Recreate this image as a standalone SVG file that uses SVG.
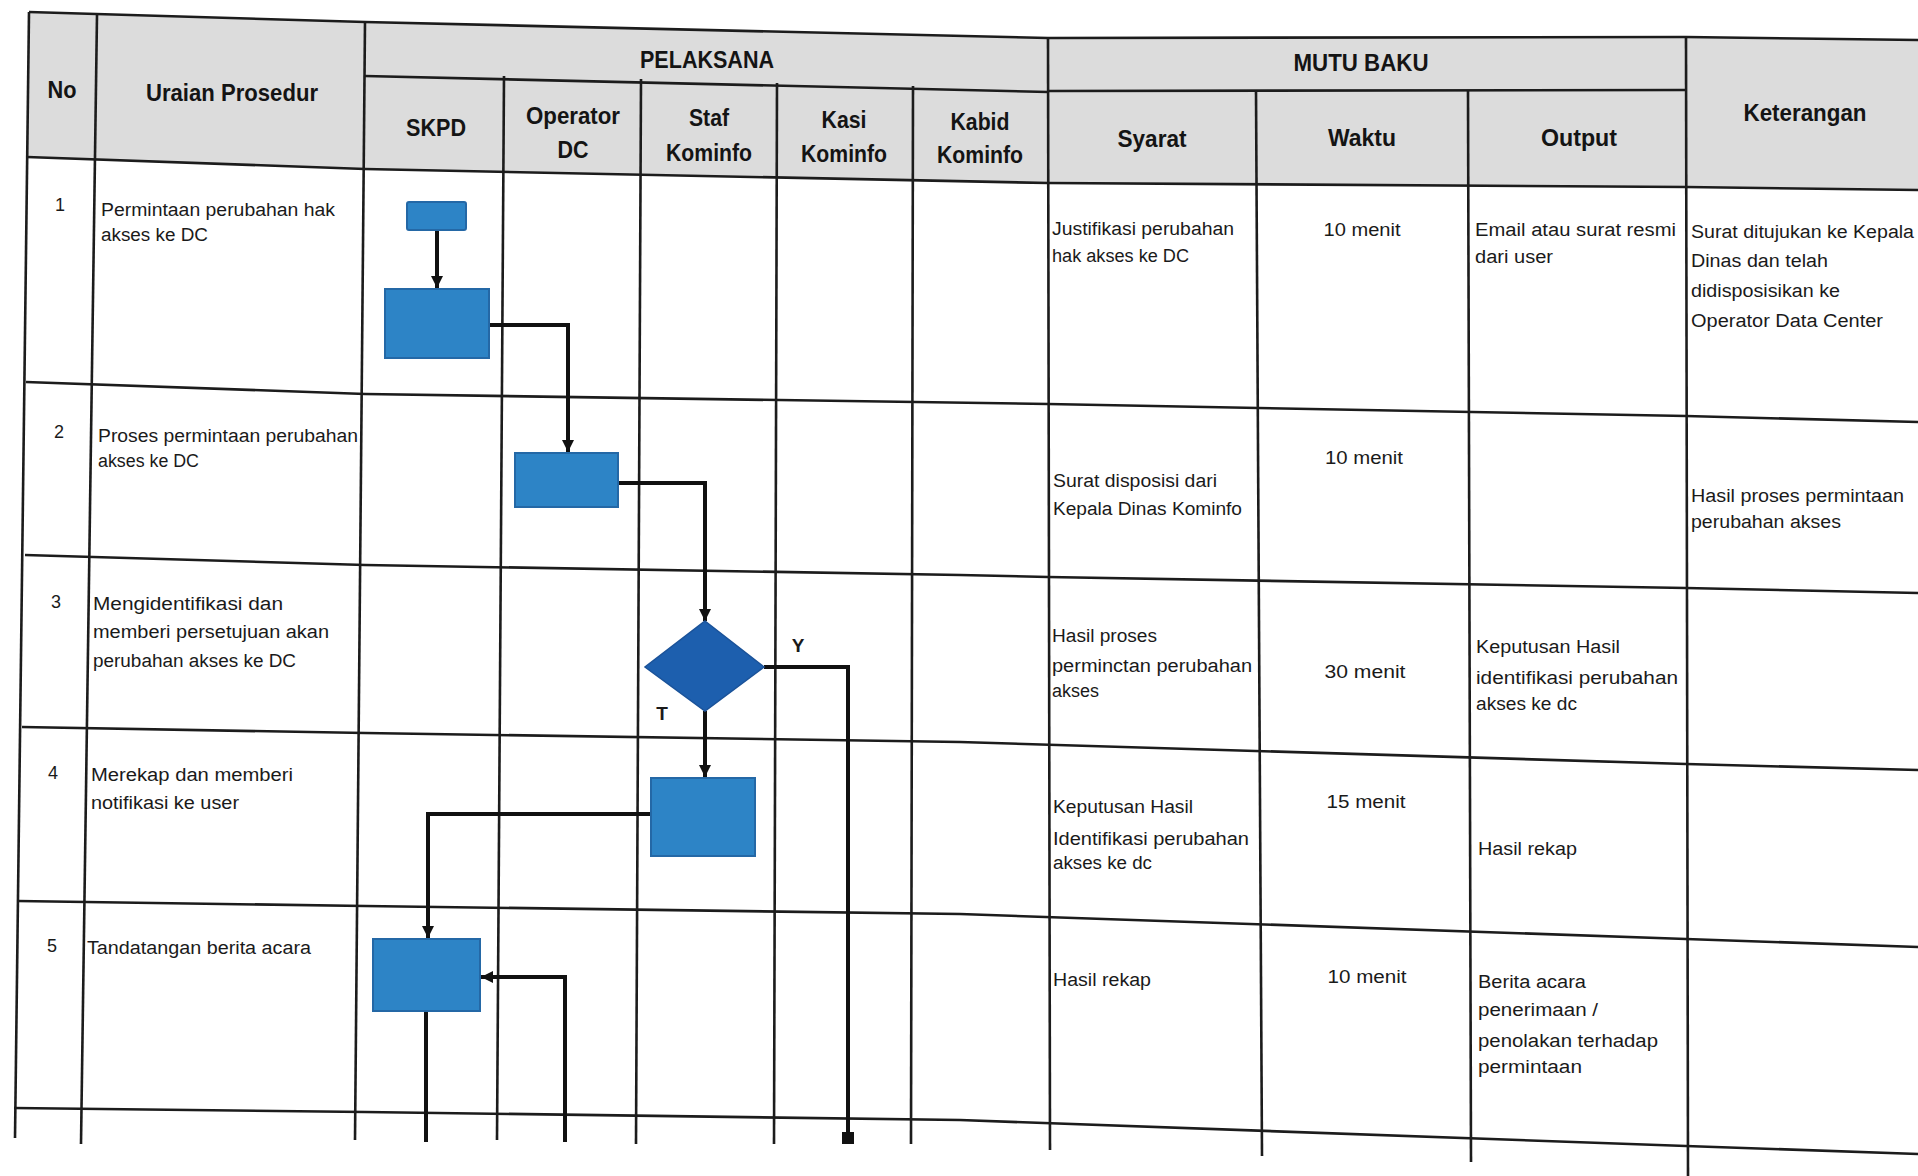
<svg xmlns="http://www.w3.org/2000/svg" width="1918" height="1176" viewBox="0 0 1918 1176">
<style>
.grid{fill:none;stroke:#1c1c1c;stroke-width:2.6;stroke-linejoin:round}
.hd{font-family:"Liberation Sans",Arial,sans-serif;font-weight:bold;font-size:24px;fill:#141414;text-anchor:middle}
.tx{font-family:"Liberation Sans",Arial,sans-serif;font-size:18px;fill:#1a1a1a}
.ct{text-anchor:middle}
.box{fill:#2d84c6;stroke:#2468a6;stroke-width:2}
.dia{fill:#1d5fae;stroke:#1a5299;stroke-width:1.5}
.con{fill:none;stroke:#111;stroke-width:4;stroke-linejoin:miter}
.lbl{font-family:"Liberation Sans",Arial,sans-serif;font-weight:bold;font-size:19px;fill:#1a1a1a;text-anchor:middle}
</style>
<defs>
<marker id="ah" markerUnits="userSpaceOnUse" markerWidth="14" markerHeight="14" refX="12" refY="7" orient="auto">
<path d="M0,1 L12,7 L0,13 z" fill="#111"/>
</marker>
<marker id="dot" markerUnits="userSpaceOnUse" markerWidth="14" markerHeight="14" refX="7" refY="7" orient="auto">
<rect x="1" y="1" width="12" height="12" fill="#111"/>
</marker>
</defs>
<rect width="1918" height="1176" fill="#ffffff"/>
<g id="table">
<polygon points="29,12 365,22 1048,38 1686,37 1918,40 1918,190 1686,187 1048,183 365,169 27,157" fill="#dcdcdc"/>
<polyline class="grid" points="29,12 365,22 1048,38 1686,37 1918,40"/>
<polyline class="grid" points="365,76 1048,92"/>
<polyline class="grid" points="1048,91 1686,90"/>
<polyline class="grid" points="27,157 365,169 1048,183 1686,187 1918,190"/>
<polyline class="grid" points="26,382 365,394 1048,404 1686,416 1918,422"/>
<polyline class="grid" points="25,555 365,565 960,575 1048,577 1686,588 1918,593"/>
<polyline class="grid" points="22,727 365,733 960,742 1686,764 1918,770"/>
<polyline class="grid" points="18,901 365,906 960,914 1686,939 1918,947"/>
<polyline class="grid" points="14,1108 365,1112 960,1120 1686,1146 1918,1154"/>
<line class="grid" x1="29" y1="12" x2="15" y2="1138"/>
<line class="grid" x1="97" y1="15" x2="81" y2="1144"/>
<line class="grid" x1="365" y1="22" x2="355" y2="1140"/>
<line class="grid" x1="504" y1="76" x2="497" y2="1140"/>
<line class="grid" x1="641" y1="79" x2="636" y2="1144"/>
<line class="grid" x1="777" y1="83" x2="774" y2="1144"/>
<line class="grid" x1="913" y1="86" x2="911" y2="1144"/>
<line class="grid" x1="1048" y1="38" x2="1050" y2="1150"/>
<line class="grid" x1="1256" y1="91" x2="1262" y2="1156"/>
<line class="grid" x1="1468" y1="90" x2="1471" y2="1162"/>
<line class="grid" x1="1686" y1="37" x2="1688" y2="1176"/>
</g>
<g id="header">
<text class="hd" x="62" y="98" textLength="29" lengthAdjust="spacingAndGlyphs">No</text>
<text class="hd" x="232" y="101" textLength="172" lengthAdjust="spacingAndGlyphs">Uraian Prosedur</text>
<text class="hd" x="707" y="68" textLength="134" lengthAdjust="spacingAndGlyphs">PELAKSANA</text>
<text class="hd" x="436" y="136" textLength="60" lengthAdjust="spacingAndGlyphs">SKPD</text>
<text class="hd" x="573" y="124" textLength="94" lengthAdjust="spacingAndGlyphs">Operator</text>
<text class="hd" x="573" y="158" textLength="31" lengthAdjust="spacingAndGlyphs">DC</text>
<text class="hd" x="709" y="126" textLength="40" lengthAdjust="spacingAndGlyphs">Staf</text>
<text class="hd" x="709" y="161" textLength="86" lengthAdjust="spacingAndGlyphs">Kominfo</text>
<text class="hd" x="844" y="128" textLength="45" lengthAdjust="spacingAndGlyphs">Kasi</text>
<text class="hd" x="844" y="162" textLength="86" lengthAdjust="spacingAndGlyphs">Kominfo</text>
<text class="hd" x="980" y="130" textLength="59" lengthAdjust="spacingAndGlyphs">Kabid</text>
<text class="hd" x="980" y="163" textLength="86" lengthAdjust="spacingAndGlyphs">Kominfo</text>
<text class="hd" x="1361" y="71" textLength="135" lengthAdjust="spacingAndGlyphs">MUTU BAKU</text>
<text class="hd" x="1152" y="147" textLength="69" lengthAdjust="spacingAndGlyphs">Syarat</text>
<text class="hd" x="1362" y="146" textLength="68" lengthAdjust="spacingAndGlyphs">Waktu</text>
<text class="hd" x="1579" y="146" textLength="76" lengthAdjust="spacingAndGlyphs">Output</text>
<text class="hd" x="1805" y="121" textLength="123" lengthAdjust="spacingAndGlyphs">Keterangan</text>
</g>
<g id="cells">
<text class="tx ct" x="60" y="211">1</text>
<text class="tx" x="101" y="216" textLength="234" lengthAdjust="spacingAndGlyphs">Permintaan perubahan hak</text>
<text class="tx" x="101" y="241" textLength="107" lengthAdjust="spacingAndGlyphs">akses ke  DC</text>
<text class="tx" x="1052" y="235" textLength="182" lengthAdjust="spacingAndGlyphs">Justifikasi perubahan</text>
<text class="tx" x="1052" y="262" textLength="137" lengthAdjust="spacingAndGlyphs">hak akses ke DC</text>
<text class="tx ct" x="1362" y="236" textLength="77" lengthAdjust="spacingAndGlyphs">10 menit</text>
<text class="tx" x="1475" y="236" textLength="201" lengthAdjust="spacingAndGlyphs">Email atau surat resmi</text>
<text class="tx" x="1475" y="263" textLength="78" lengthAdjust="spacingAndGlyphs">dari user</text>
<text class="tx" x="1691" y="238" textLength="223" lengthAdjust="spacingAndGlyphs">Surat ditujukan ke Kepala</text>
<text class="tx" x="1691" y="267" textLength="137" lengthAdjust="spacingAndGlyphs">Dinas dan telah</text>
<text class="tx" x="1691" y="297" textLength="149" lengthAdjust="spacingAndGlyphs">didisposisikan ke</text>
<text class="tx" x="1691" y="327" textLength="192" lengthAdjust="spacingAndGlyphs">Operator Data Center</text>

<text class="tx ct" x="59" y="438">2</text>
<text class="tx" x="98" y="442" textLength="260" lengthAdjust="spacingAndGlyphs">Proses permintaan perubahan</text>
<text class="tx" x="98" y="467" textLength="101" lengthAdjust="spacingAndGlyphs">akses ke DC</text>
<text class="tx" x="1053" y="487" textLength="164" lengthAdjust="spacingAndGlyphs">Surat disposisi dari</text>
<text class="tx" x="1053" y="515" textLength="189" lengthAdjust="spacingAndGlyphs">Kepala Dinas Kominfo</text>
<text class="tx ct" x="1364" y="464" textLength="78" lengthAdjust="spacingAndGlyphs">10 menit</text>
<text class="tx" x="1691" y="502" textLength="213" lengthAdjust="spacingAndGlyphs">Hasil proses permintaan</text>
<text class="tx" x="1691" y="528" textLength="150" lengthAdjust="spacingAndGlyphs">perubahan akses</text>

<text class="tx ct" x="56" y="608">3</text>
<text class="tx" x="93" y="610" textLength="190" lengthAdjust="spacingAndGlyphs">Mengidentifikasi  dan</text>
<text class="tx" x="93" y="638" textLength="236" lengthAdjust="spacingAndGlyphs">memberi persetujuan akan</text>
<text class="tx" x="93" y="667" textLength="203" lengthAdjust="spacingAndGlyphs">perubahan akses ke DC</text>
<text class="tx" x="1052" y="642" textLength="105" lengthAdjust="spacingAndGlyphs">Hasil proses</text>
<text class="tx" x="1052" y="672" textLength="200" lengthAdjust="spacingAndGlyphs">perminctan perubahan</text>
<text class="tx" x="1052" y="697" textLength="47" lengthAdjust="spacingAndGlyphs">akses</text>
<text class="tx ct" x="1365" y="678" textLength="81" lengthAdjust="spacingAndGlyphs">30 menit</text>
<text class="tx" x="1476" y="653" textLength="144" lengthAdjust="spacingAndGlyphs">Keputusan Hasil</text>
<text class="tx" x="1476" y="684" textLength="202" lengthAdjust="spacingAndGlyphs">identifikasi perubahan</text>
<text class="tx" x="1476" y="710" textLength="101" lengthAdjust="spacingAndGlyphs">akses ke dc</text>

<text class="tx ct" x="53" y="779">4</text>
<text class="tx" x="91" y="781" textLength="202" lengthAdjust="spacingAndGlyphs">Merekap dan memberi</text>
<text class="tx" x="91" y="809" textLength="148" lengthAdjust="spacingAndGlyphs">notifikasi ke user</text>
<text class="tx" x="1053" y="813" textLength="140" lengthAdjust="spacingAndGlyphs">Keputusan Hasil</text>
<text class="tx" x="1053" y="845" textLength="196" lengthAdjust="spacingAndGlyphs">Identifikasi perubahan</text>
<text class="tx" x="1053" y="869" textLength="99" lengthAdjust="spacingAndGlyphs">akses ke dc</text>
<text class="tx ct" x="1366" y="808" textLength="79" lengthAdjust="spacingAndGlyphs">15 menit</text>
<text class="tx" x="1478" y="855" textLength="99" lengthAdjust="spacingAndGlyphs">Hasil rekap</text>

<text class="tx ct" x="52" y="952">5</text>
<text class="tx" x="87" y="954" textLength="224" lengthAdjust="spacingAndGlyphs">Tandatangan berita acara</text>
<text class="tx" x="1053" y="986" textLength="98" lengthAdjust="spacingAndGlyphs">Hasil rekap</text>
<text class="tx ct" x="1367" y="983" textLength="79" lengthAdjust="spacingAndGlyphs">10 menit</text>
<text class="tx" x="1478" y="988" textLength="108" lengthAdjust="spacingAndGlyphs">Berita acara</text>
<text class="tx" x="1478" y="1016" textLength="120" lengthAdjust="spacingAndGlyphs">penerimaan /</text>
<text class="tx" x="1478" y="1047" textLength="180" lengthAdjust="spacingAndGlyphs">penolakan terhadap</text>
<text class="tx" x="1478" y="1073" textLength="104" lengthAdjust="spacingAndGlyphs">permintaan</text>
</g>
<g id="connectors">
<path class="con" d="M437,230 V288" marker-end="url(#ah)"/>
<path class="con" d="M489,325 H568 V452" marker-end="url(#ah)"/>
<path class="con" d="M618,483 H705 V621" marker-end="url(#ah)"/>
<path class="con" d="M764,667 H848 V1138" marker-end="url(#dot)"/>
<path class="con" d="M705,711 V777" marker-end="url(#ah)"/>
<path class="con" d="M651,814 H428 V938" marker-end="url(#ah)"/>
<path class="con" d="M565,1142 V977 H481" marker-end="url(#ah)"/>
<path class="con" d="M426,1011 V1142"/>
<text class="lbl" x="798" y="652">Y</text>
<text class="lbl" x="662" y="720">T</text>
</g>
<g id="n1"><rect class="box" x="407" y="202" width="59" height="28" rx="2"/></g>
<g id="n2"><rect class="box" x="385" y="289" width="104" height="69"/></g>
<g id="n3"><rect class="box" x="515" y="453" width="103" height="54"/></g>
<g id="n4"><polygon class="dia" points="705,621 764,667 705,711 645,667"/></g>
<g id="n5"><rect class="box" x="651" y="778" width="104" height="78"/></g>
<g id="n6"><rect class="box" x="373" y="939" width="107" height="72"/></g>
</svg>
